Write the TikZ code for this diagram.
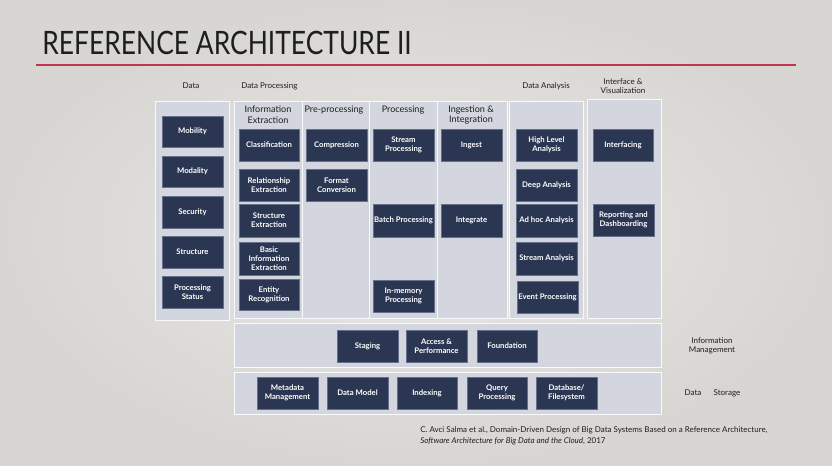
\documentclass[tikz,border=0pt]{standalone}
\usepackage{fontspec}
\setmainfont{Lato}
\definecolor{bgin}{HTML}{EAE8E5}
\definecolor{bgout}{HTML}{D8D6D2}
\definecolor{panelc}{HTML}{D3D6DE}
\definecolor{boxc}{HTML}{2B3653}
\definecolor{boxline}{HTML}{66708A}
\definecolor{redline}{HTML}{C0354F}
\definecolor{txt}{HTML}{1E1E1E}
\tikzset{
  panel/.style={fill=panelc,draw=white!85!panelc,line width=0.55pt,inner sep=0pt},
  bx/.style={fill=boxc,draw=boxline,line width=0.5pt,text=white,inner sep=0pt,align=center,
    font=\bfseries\fontsize{5.8}{6.6}\selectfont},
  hdr/.style={text=txt,inner sep=0pt,align=center,font=\fontsize{6}{6.8}\selectfont},
  colhdr/.style={text=txt,inner sep=0pt,align=center,font=\fontsize{6.8}{8.2}\selectfont},
}
\newcommand\bx[6]{\node[bx,minimum width={(#4-#2)*0.75pt},minimum height={(#5-#3)*0.75pt}] (#1) at ({(#2+#4)/2},{(#3+#5)/2}) {#6};}
\newcommand\pnl[5]{\node[panel,minimum width={(#4-#2)*0.75pt},minimum height={(#5-#3)*0.75pt}] (#1) at ({(#2+#4)/2},{(#3+#5)/2}) {};}
\begin{document}
\begin{tikzpicture}[x=0.75pt,y=-0.75pt]
\useasboundingbox (0,0) rectangle (832,466);
\shade[inner color=bgin,outer color=bgout] (0,0) rectangle (832,466);
% title
\node[anchor=south west,inner sep=0pt,text=txt] (title) at (42,55) {\resizebox{277pt}{17.5pt}{\fontsize{24}{24}\selectfont REFERENCE ARCHITECTURE II}};
\coordinate (rl1) at (36,65);
\coordinate (rl2) at (796,65);
\draw[redline,line width=1.6pt] (rl1) -- (rl2);
% top headers
\node[hdr] (hData) at (191,86) {Data};
\node[hdr,anchor=west] (hDP) at (241,86) {Data Processing};
\node[hdr] (hDA) at (546,86) {Data Analysis};
\node[hdr] (hIV) at (623,86) {Interface \&\\Visualization};
% panels
\pnl{pData}{155}{101}{229}{320}
\pnl{pIE}{234}{101}{302}{318}
\pnl{pPre}{302}{101}{369}{318}
\pnl{pProc}{369}{101}{437}{318}
\pnl{pIng}{437}{101}{507}{318}
\pnl{pDA}{509}{101}{583}{318}
\pnl{pIV}{587}{99}{661}{318}
\pnl{pIM}{234}{323}{661}{367}
\pnl{pDS}{234}{372}{661}{414}
% column headers
\node[colhdr] (cIE) at (268,115) {Information\\Extraction};
\node[colhdr] (cPre) at (334,110) {Pre-processing};
\node[colhdr] (cProc) at (403,110) {Processing};
\node[colhdr] (cIng) at (471,115) {Ingestion \&\\Integration};
% Data column
\bx{mob}{162}{116}{223}{147}{Mobility}
\bx{mod}{162}{156}{223}{187}{Modality}
\bx{sec}{162}{196}{223}{228}{Security}
\bx{str}{162}{236}{223}{268}{Structure}
\bx{pst}{162}{276}{223}{308}{Processing\\Status}
% Information extraction
\bx{cla}{239}{129}{299}{161}{Classification}
\bx{rel}{239}{169}{299}{201}{Relationship\\Extraction}
\bx{sex}{239}{204}{299}{237}{Structure\\Extraction}
\bx{bie}{239}{242}{299}{275}{Basic\\Information\\Extraction}
\bx{ent}{239}{279}{299}{310}{Entity\\Recognition}
% Pre-processing
\bx{com}{306}{129}{367}{161}{Compression}
\bx{fmt}{306}{169}{367}{201}{Format\\Conversion}
% Processing
\bx{stp}{373}{129}{434}{161}{Stream\\Processing}
\bx{bat}{373}{204}{434}{237}{Batch Processing}
\bx{inm}{373}{280}{434}{312}{In-memory\\Processing}
% Ingestion
\bx{ing}{441}{129}{502}{161}{Ingest}
\bx{int}{441}{204}{502}{237}{Integrate}
% Data analysis
\bx{hla}{516}{129}{577}{161}{High Level\\Analysis}
\bx{dea}{516}{169}{577}{201}{Deep Analysis}
\bx{aha}{516}{204}{577}{237}{Ad hoc Analysis}
\bx{sta}{516}{242}{577}{275}{Stream Analysis}
\bx{evp}{517}{281}{578}{313}{Event Processing}
% Interface
\bx{itf}{593}{129}{653}{161}{Interfacing}
\bx{rep}{593}{204}{654}{236}{Reporting and\\Dashboarding}
% Information management
\bx{stg}{337}{330}{398}{362}{Staging}
\bx{acc}{406}{330}{467}{362}{Access \&\\Performance}
\bx{fnd}{477}{330}{537}{362}{Foundation}
% Data storage
\bx{mdm}{257}{377}{318}{409}{Metadata\\Management}
\bx{dmo}{327}{377}{388}{409}{Data Model}
\bx{idx}{397}{377}{457}{409}{Indexing}
\bx{qpr}{467}{377}{527}{409}{Query\\Processing}
\bx{dbf}{536}{377}{597}{409}{Database/\\Filesystem}
% right labels
\node[hdr] (lIM) at (712,346) {Information\\Management};
\node[hdr] (lDS1) at (693,393) {Data};
\node[hdr] (lDS2) at (727,393) {Storage};
% citation
\node[anchor=north west,inner sep=0pt,text=txt,align=left,font=\fontsize{6}{8.2}\selectfont] (cite) at (420,426)
  {C. Avci Salma et al., Domain-Driven Design of Big Data Systems Based on a Reference Architecture,\\
   \textit{Software Architecture for Big Data and the Cloud}, 2017};
\end{tikzpicture}
\end{document}
